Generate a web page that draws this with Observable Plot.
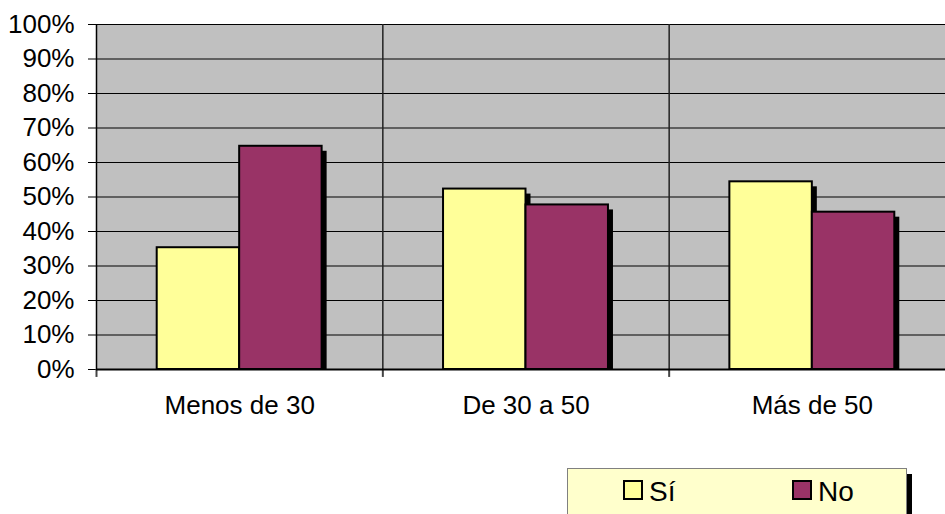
<!DOCTYPE html>
<html>
<head>
<meta charset="utf-8">
<script src="https://cdn.jsdelivr.net/npm/d3@7"></script>
<script src="https://cdn.jsdelivr.net/npm/@observablehq/plot@0.6"></script>
<style>
  html, body { margin: 0; padding: 0; background: #fff; overflow: hidden; }
  #wrap { position: relative; width: 945px; height: 514px; }
  #legend {
    position: absolute; left: 567px; top: 468px; width: 340px; height: 46px;
    background: #FFFFCC; border: 1px solid #808080; border-bottom: none;
    box-shadow: 5px 6px 0 #000; box-sizing: border-box;
    font-family: "Liberation Sans", Arial, sans-serif; font-size: 28px; color: #000;
  }
  .item { position: absolute; top: 0; height: 46px; display: flex; align-items: center; }
  .sw { width: 16px; height: 16px; border: 2px solid #000; margin-right: 6px; margin-top: -4px; }
</style>
</head>
<body>
<div id="wrap"><div id="chart"></div><div id="legend"></div></div>
<script>
const categories = ["Menos de 30", "De 30 a 50", "Más de 50"];
const series = ["Sí", "No"];
const siValues = [35.3, 52.3, 54.4];
const noValues = [64.7, 47.7, 45.6];
const seriesColors = ["#FFFF99", "#993366"];
const yTickValues = [0, 10, 20, 30, 40, 50, 60, 70, 80, 90, 100];
const yTickLabels = ["0%", "10%", "20%", "30%", "40%", "50%", "60%", "70%", "80%", "90%", "100%"];

const rows = [];
categories.forEach((c, i) => {
  rows.push({cat: c, i, s: 0, series: series[0], value: siValues[i]});
  rows.push({cat: c, i, s: 1, series: series[1], value: noValues[i]});
});
const x1 = d => d.i + (d.s === 0 ? 0.212 : 0.5);
const x2 = d => d.i + (d.s === 0 ? 0.5 : 0.788);

const plot = Plot.plot({
  width: 945,
  height: 440,
  marginLeft: 96,
  marginRight: 0,
  marginTop: 24,
  marginBottom: 71,
  style: {fontFamily: "'Liberation Sans', Arial, sans-serif", fontSize: "26px", color: "#000", background: "#fff"},
  x: {
    domain: [0, 3], range: [96, 955],
    ticks: categories.map((c, i) => i + 0.5),
    tickFormat: v => categories[Math.floor(v)],
    tickSize: 0, tickPadding: 26, label: null
  },
  y: {
    domain: [0, 100],
    ticks: yTickValues,
    tickFormat: v => yTickLabels[yTickValues.indexOf(v)],
    tickSize: 8, tickPadding: 14, label: null
  },
  color: {domain: series, range: seriesColors},
  marks: [
    Plot.frame({fill: "#C0C0C0", stroke: null}),
    Plot.ruleY(yTickValues.slice(1), {stroke: "#000", strokeWidth: 1}),
    Plot.ruleX(categories.map((c, i) => i).slice(1), {y1: 0, y2: 100, stroke: "#222", strokeWidth: 1.5}),
    Plot.ruleX(categories.map((c, i) => i), {y1: 0, y2: -2.3, stroke: "#444", strokeWidth: 2}),
    Plot.rectY(rows, {x1, x2, y1: 0, y2: "value", fill: "#000", dx: 5, dy: 5, insetBottom: 5}),
    Plot.rectY(rows, {x1, x2, y1: 0, y2: "value", fill: "series", stroke: "#000", strokeWidth: 2}),
    Plot.ruleX([0], {y1: 0, y2: 100, stroke: "#000", strokeWidth: 1.5}),
    Plot.ruleY([0], {stroke: "#000", strokeWidth: 2})
  ]
});
document.getElementById("chart").appendChild(plot);

const legend = document.getElementById("legend");
const itemLeft = [55, 224];
series.forEach((s, k) => {
  const it = document.createElement("div");
  it.className = "item";
  it.style.left = itemLeft[k] + "px";
  const sw = document.createElement("div");
  sw.className = "sw";
  sw.style.background = seriesColors[k];
  const t = document.createElement("span");
  t.textContent = s;
  it.appendChild(sw);
  it.appendChild(t);
  legend.appendChild(it);
});
</script>
</body>
</html>
